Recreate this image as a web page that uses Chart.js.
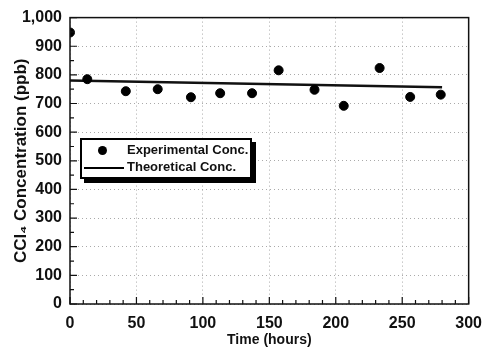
<!DOCTYPE html>
<html>
<head>
<meta charset="utf-8">
<script src="https://cdn.jsdelivr.net/npm/chart.js@4/dist/chart.umd.min.js"></script>
<style>
  html, body { margin: 0; padding: 0; background: #fff; }
  #wrap { position: relative; width: 492px; height: 349px; }
  #legend {
    position: absolute; left: 80px; top: 138px; width: 168px; height: 37px;
    border: 2px solid #000; background: #fff; box-shadow: 4px 4px 0 #000;
    font: bold 13px "Liberation Sans", Arial, sans-serif; color: #111;
  }
  .row { position: absolute; left: 0; height: 18px; line-height: 18px; }
  .row span.t { position: absolute; left: 45px; white-space: nowrap; }
  .dot { position: absolute; left: 16px; top: 5px; width: 9px; height: 9px; border-radius: 50%; background: #000; }
  .ln { position: absolute; left: 2px; top: 9px; width: 40px; height: 2px; background: #000; }
</style>
</head>
<body>
<div id="wrap">
  <canvas id="concChart" width="492" height="349"></canvas>
  <div id="legend">
    <div class="row" style="top:1px"><div class="dot"></div><span class="t">Experimental Conc.</span></div>
    <div class="row" style="top:18px"><div class="ln"></div><span class="t">Theoretical Conc.</span></div>
  </div>
</div>
<script>
const hours = [0, 13, 42, 66, 91, 113, 137, 157, 184, 206, 233, 256, 279];
const experimental = [948, 785, 743, 750, 722, 736, 736, 816, 748, 692, 824, 723, 731];
const theoryHours = [0, 280];
const theoretical = [780, 757];

const ctx = document.getElementById("concChart");

const frameAndTicks = {
    id: "frameAndTicks",
    afterDraw(chart) {
        const c = chart.ctx;
        const a = chart.chartArea;
        const xs = chart.scales.x, ys = chart.scales.y;
        c.save();
        c.strokeStyle = "#111";
        c.lineWidth = 1.5;
        c.strokeRect(a.left, a.top, a.right - a.left, a.bottom - a.top);
        c.lineWidth = 1.2;
        c.beginPath();
        for (let v = 0; v <= 300; v += 10) {
            const px = xs.getPixelForValue(v);
            const len = v % 50 === 0 ? 7 : 4;
            c.moveTo(px, a.bottom);
            c.lineTo(px, a.bottom - len);
        }
        for (let v = 0; v <= 1000; v += 50) {
            const py = ys.getPixelForValue(v);
            const len = v % 100 === 0 ? 7 : 4;
            c.moveTo(a.left, py);
            c.lineTo(a.left + len, py);
        }
        c.stroke();
        c.restore();
    }
};

const concChart = new Chart(ctx, {
    type: "scatter",
    data: {
        datasets: [{
            label: "Experimental Conc.",
            data: hours.map((h, i) => ({ x: h, y: experimental[i] })),
            backgroundColor: "#000",
            borderColor: "#000",
            pointRadius: 4.5,
            pointHoverRadius: 4.5,
            showLine: false
        }, {
            label: "Theoretical Conc.",
            data: theoryHours.map((h, i) => ({ x: h, y: theoretical[i] })),
            borderColor: "#111",
            borderWidth: 2.5,
            pointRadius: 0,
            showLine: true
        }]
    },
    options: {
        responsive: false,
        animation: false,
        layout: { padding: { left: 0, right: 23, top: 16, bottom: 0 } },
        plugins: {
            legend: { display: false },
            tooltip: { enabled: false }
        },
        scales: {
            x: {
                type: "linear",
                min: 0,
                max: 300,
                afterFit(scale) { scale.height = 45; },
                ticks: {
                    stepSize: 50,
                    color: "#111",
                    padding: 10,
                    maxRotation: 0,
                    font: { family: "Liberation Sans", size: 16, weight: "bold" }
                },
                grid: { color: "#aaa", lineWidth: 1, drawTicks: false },
                border: { display: false, dash: [1, 3] },
                title: {
                    display: true,
                    text: "Time (hours)",
                    color: "#111",
                    padding: { top: 2, bottom: 0 },
                    font: { family: "Liberation Sans", size: 14, weight: "bold" }
                }
            },
            y: {
                min: 0,
                max: 1000,
                afterFit(scale) { scale.width = 70; },
                ticks: {
                    stepSize: 100,
                    color: "#111",
                    padding: 8,
                    font: { family: "Liberation Sans", size: 16, weight: "bold" },
                    callback: v => v.toLocaleString("en-US")
                },
                grid: { color: "#aaa", lineWidth: 1, drawTicks: false },
                border: { display: false, dash: [1, 3] },
                title: {
                    display: true,
                    text: "CCl\u2084 Concentration (ppb)",
                    color: "#111",
                    padding: { top: 11, bottom: 0 },
                    font: { family: "Liberation Sans", size: 17, weight: "bold" }
                }
            }
        }
    },
    plugins: [frameAndTicks]
});
</script>
</body>
</html>
